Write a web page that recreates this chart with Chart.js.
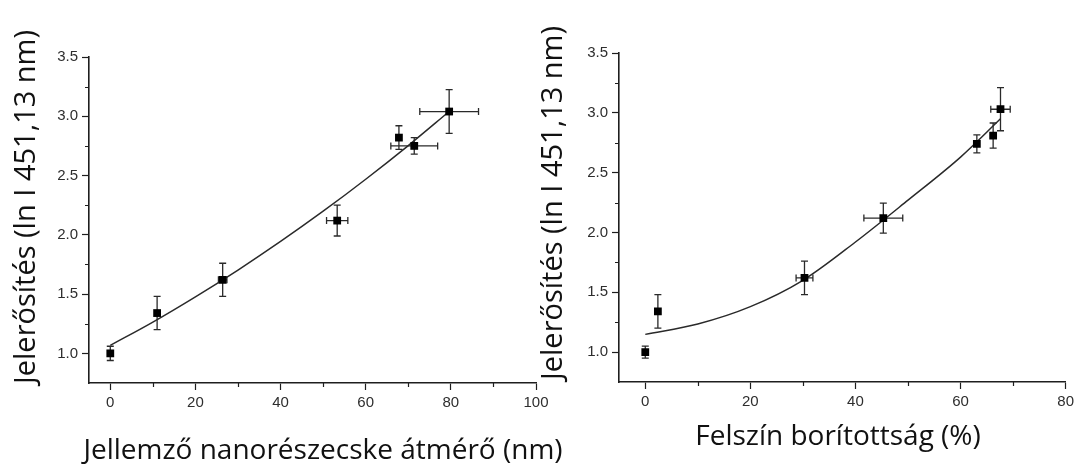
<!DOCTYPE html>
<html>
<head>
<meta charset="utf-8">
<script src="https://cdn.jsdelivr.net/npm/chart.js@4.4.1/dist/chart.umd.min.js"></script>
<style>
  html, body { margin: 0; padding: 0; background: #fff; }
  #wrap { position: relative; width: 1078px; height: 465px; overflow: hidden; background: #fff; }
  #c1 { position: absolute; left: 0; top: 0; }
  #c2 { position: absolute; left: 540px; top: 0; }
</style>
</head>
<body>
<div id="wrap">
  <canvas id="c1" width="580" height="465"></canvas>
  <canvas id="c2" width="538" height="465"></canvas>
</div>
<script>
// ---- Panel A: signal enhancement vs. characteristic nanoparticle diameter ----
const diamX    = [0, 11, 26.4, 53.3, 67.8, 71.4, 79.6];
const diamY    = [1.00, 1.34, 1.62, 2.12, 2.82, 2.75, 3.04];
const diamXErr = [0, 0, 1.0, 2.5, 0, 5.5, 6.9];
const diamYErr = [0.06, 0.14, 0.14, 0.13, 0.10, 0.07, 0.185];
// fitted curve, sampled along its path
const diamFitX = [0, 10, 20, 30, 40, 50, 60, 70, 79.6];
const diamFitY = [1.067, 1.264, 1.477, 1.703, 1.944, 2.199, 2.469, 2.753, 3.04];
const diamTicks  = [0, 20, 40, 60, 80, 100];
const diamMinor  = [10, 30, 50, 70, 90];

// ---- Panel B: signal enhancement vs. surface coverage ----
const covX    = [0, 2.4, 30.3, 45.3, 63.1, 66.2, 67.6];
const covY    = [1.00, 1.34, 1.62, 2.12, 2.74, 2.81, 3.03];
const covXErr = [0, 0, 1.6, 3.7, 0, 0, 1.85];
const covYErr = [0.05, 0.14, 0.14, 0.125, 0.075, 0.105, 0.18];
const covFitX = [0, 10, 20, 30, 40, 50, 60, 67.6];
const covFitY = [1.148, 1.235, 1.38, 1.60, 1.92, 2.27, 2.63, 2.95];
const covTicks = [0, 20, 40, 60, 80];
const covMinor = [10, 30, 50, 70];

// ---- shared y axis ----
const yTicks      = [1.0, 1.5, 2.0, 2.5, 3.0, 3.5];
const yTickLabels = ['1.0', '1.5', '2.0', '2.5', '3.0', '3.5'];
const yMinor      = [1.25, 1.75, 2.25, 2.75, 3.25];

const yTitle = 'Jelerősítés (ln I 451,13 nm)';
const diamTitle = 'Jellemző nanorészecske átmérő (nm)';
const covTitle = 'Felszín borítottság (%)';

const INK = '#1e1e1e';
const TICK_FONT = { family: '"Liberation Sans", Arial, sans-serif', size: 15 };
const X_TITLE_FONT = '28px "Open Sans", "Noto Sans", sans-serif';
const Y_TITLE_FONT = '29px "Open Sans", "Noto Sans", sans-serif';

// Error bars drawn beneath the markers
const errorBars = {
  id: 'errorBars',
  beforeDatasetsDraw(chart) {
    const ds = chart.data.datasets[0];
    const xs = chart.scales.x, ys = chart.scales.y, ctx = chart.ctx;
    const cap = 3.5;
    ctx.save();
    ctx.strokeStyle = '#2a2a2a';
    ctx.lineWidth = 1.3;
    ds.data.forEach((p, i) => {
      const px = xs.getPixelForValue(p.x), py = ys.getPixelForValue(p.y);
      const ey = ds.errY[i], ex = ds.errX[i];
      ctx.beginPath();
      if (ey) {
        const t = ys.getPixelForValue(p.y + ey), b = ys.getPixelForValue(p.y - ey);
        ctx.moveTo(px, t); ctx.lineTo(px, b);
        ctx.moveTo(px - cap, t); ctx.lineTo(px + cap, t);
        ctx.moveTo(px - cap, b); ctx.lineTo(px + cap, b);
      }
      if (ex) {
        const l = xs.getPixelForValue(p.x - ex), r = xs.getPixelForValue(p.x + ex);
        ctx.moveTo(l, py); ctx.lineTo(r, py);
        ctx.moveTo(l, py - cap); ctx.lineTo(l, py + cap);
        ctx.moveTo(r, py - cap); ctx.lineTo(r, py + cap);
      }
      ctx.stroke();
    });
    ctx.restore();
  }
};

// Short minor tick marks on both axes
const minorTicks = {
  id: 'minorTicks',
  afterDraw(chart, args, opts) {
    const { ctx, chartArea: a } = chart;
    const xs = chart.scales.x, ys = chart.scales.y;
    ctx.save();
    ctx.strokeStyle = INK;
    ctx.lineWidth = 1.2;
    ctx.beginPath();
    (opts.x || []).forEach(v => {
      const px = Math.round(xs.getPixelForValue(v)) + 0.5;
      ctx.moveTo(px, a.bottom); ctx.lineTo(px, a.bottom + 4);
    });
    (opts.y || []).forEach(v => {
      const py = Math.round(ys.getPixelForValue(v)) + 0.5;
      ctx.moveTo(a.left, py); ctx.lineTo(a.left - 4, py);
    });
    ctx.stroke();
    ctx.restore();
  }
};

// Axis captions placed freely on the canvas
const captions = {
  id: 'captions',
  afterDraw(chart, args, opts) {
    const ctx = chart.ctx;
    ctx.save();
    ctx.fillStyle = '#111';
    ctx.font = X_TITLE_FONT;
    ctx.textAlign = 'center';
    ctx.textBaseline = 'alphabetic';
    ctx.fillText(opts.x.text, opts.x.cx, opts.x.baseline);
    ctx.font = Y_TITLE_FONT;
    ctx.translate(opts.y.cx, opts.y.cy);
    ctx.rotate(-Math.PI / 2);
    ctx.textBaseline = 'middle';
    ctx.fillText(opts.y.text, 0, 0);
    ctx.restore();
  }
};

function makePanel(canvas, cfg) {
  return new Chart(canvas, {
    type: 'scatter',
    data: {
      datasets: [
        {
          label: 'mért',
          data: cfg.xs.map((x, i) => ({ x, y: cfg.ys[i] })),
          errX: cfg.xErr,
          errY: cfg.yErr,
          pointStyle: 'rect',
          pointRadius: 5.5,
          pointBackgroundColor: '#000',
          pointBorderColor: '#000',
          pointBorderWidth: 0,
          showLine: false
        },
        {
          label: 'illesztés',
          data: cfg.fitX.map((x, i) => ({ x, y: cfg.fitY[i] })),
          showLine: true,
          borderColor: '#2a2a2a',
          borderWidth: 1.5,
          pointRadius: 0,
          cubicInterpolationMode: 'monotone',
          fill: false
        }
      ]
    },
    options: {
      responsive: false,
      animation: false,
      events: [],
      layout: {
        autoPadding: false,
        padding: { top: cfg.top, right: cfg.right, bottom: 0, left: 0 }
      },
      plugins: {
        legend: { display: false },
        tooltip: { enabled: false },
        minorTicks: { x: cfg.minorX, y: yMinor },
        captions: cfg.captions
      },
      scales: {
        x: {
          type: 'linear',
          min: -5,
          max: cfg.xMax,
          afterBuildTicks: s => { s.ticks = cfg.xTicks.map(v => ({ value: v })); },
          afterFit: s => { s.height = cfg.xAxisHeight; },
          ticks: { font: TICK_FONT, color: '#2e2e2e', padding: 4, maxRotation: 0, autoSkip: false },
          grid: { drawOnChartArea: false, drawTicks: true, tickLength: 7, tickColor: INK, tickWidth: 1.2 },
          border: { color: INK, width: 1.6 }
        },
        y: {
          type: 'linear',
          min: 0.75,
          max: 3.5,
          afterBuildTicks: s => { s.ticks = yTicks.map(v => ({ value: v })); },
          afterFit: s => { s.width = cfg.yAxisWidth; },
          ticks: {
            font: TICK_FONT, color: '#2e2e2e', padding: 4, autoSkip: false,
            callback: (v, i) => yTickLabels[i]
          },
          grid: { drawOnChartArea: false, drawTicks: true, tickLength: 7, tickColor: INK, tickWidth: 1.2 },
          border: { color: INK, width: 1.6 }
        }
      }
    },
    plugins: [errorBars, minorTicks, captions]
  });
}

makePanel(document.getElementById('c1'), {
  xs: diamX, ys: diamY, xErr: diamXErr, yErr: diamYErr,
  fitX: diamFitX, fitY: diamFitY,
  xMax: 100, xTicks: diamTicks, minorX: diamMinor,
  top: 57, right: 44, yAxisWidth: 89, xAxisHeight: 82,
  captions: {
    x: { text: diamTitle, cx: 323, baseline: 459 },
    y: { text: yTitle, cx: 27, cy: 207 }
  }
});

makePanel(document.getElementById('c2'), {
  xs: covX, ys: covY, xErr: covXErr, yErr: covYErr,
  fitX: covFitX, fitY: covFitY,
  xMax: 80, xTicks: covTicks, minorX: covMinor,
  top: 53, right: 11, yAxisWidth: 79, xAxisHeight: 83,
  captions: {
    x: { text: covTitle, cx: 298, baseline: 445 },
    y: { text: yTitle, cx: 14, cy: 203 }
  }
});
</script>
</body>
</html>
